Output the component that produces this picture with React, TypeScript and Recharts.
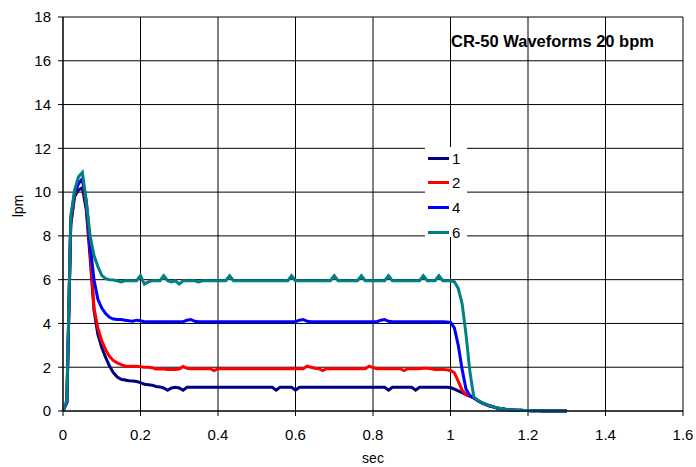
import React from 'react';
import { LineChart, Line, XAxis, YAxis, CartesianGrid, Label } from 'recharts';

// sample times, sec
const time = [
  0, 0.01, 0.02, 0.03, 0.04, 0.05, 0.06, 0.07, 0.08, 0.09,
  0.1, 0.11, 0.12, 0.13, 0.14, 0.15, 0.16, 0.17, 0.18, 0.19,
  0.2, 0.21, 0.22, 0.23, 0.24, 0.25, 0.26, 0.27, 0.28, 0.29,
  0.3, 0.31, 0.32, 0.33, 0.34, 0.35, 0.36, 0.37, 0.38, 0.39,
  0.4, 0.41, 0.42, 0.43, 0.44, 0.45, 0.46, 0.47, 0.48, 0.49,
  0.5, 0.51, 0.52, 0.53, 0.54, 0.55, 0.56, 0.57, 0.58, 0.59,
  0.6, 0.61, 0.62, 0.63, 0.64, 0.65, 0.66, 0.67, 0.68, 0.69,
  0.7, 0.71, 0.72, 0.73, 0.74, 0.75, 0.76, 0.77, 0.78, 0.79,
  0.8, 0.81, 0.82, 0.83, 0.84, 0.85, 0.86, 0.87, 0.88, 0.89,
  0.9, 0.91, 0.92, 0.93, 0.94, 0.95, 0.96, 0.97, 0.98, 0.99,
  1, 1.01, 1.02, 1.03, 1.04, 1.05, 1.06, 1.07, 1.08, 1.09,
  1.1, 1.11, 1.12, 1.13, 1.14, 1.15, 1.16, 1.17, 1.18, 1.19,
  1.2, 1.21, 1.22, 1.23, 1.24, 1.25, 1.26, 1.27, 1.28, 1.29,
  1.3,
];

// flow, lpm
const flow1 = [
  0, 0.4, 8.5, 9.8, 10.1, 10.2, 9.2, 7.0, 4.6, 3.5,
  2.9, 2.45, 2.05, 1.75, 1.55, 1.45, 1.42, 1.38, 1.37, 1.35,
  1.3, 1.22, 1.2, 1.18, 1.12, 1.1, 1.05, 0.95, 1.05, 1.08,
  1.05, 0.95, 1.08, 1.08, 1.08, 1.08, 1.08, 1.08, 1.08, 1.08,
  1.08, 1.08, 1.08, 1.08, 1.08, 1.08, 1.08, 1.08, 1.08, 1.08,
  1.08, 1.08, 1.08, 1.08, 1.08, 0.95, 1.08, 1.08, 1.08, 1.08,
  0.95, 1.08, 1.08, 1.08, 1.08, 1.08, 1.08, 1.08, 1.08, 1.08,
  1.08, 1.08, 1.08, 1.08, 1.08, 1.08, 1.08, 1.08, 1.08, 1.08,
  1.08, 1.08, 1.08, 1.08, 0.95, 1.08, 1.08, 1.08, 1.08, 1.08,
  1.08, 0.95, 1.08, 1.08, 1.08, 1.08, 1.08, 1.08, 1.08, 1.08,
  1.07, 1.0, 0.92, 0.84, 0.75, 0.68, 0.6, 0.48, 0.38, 0.3,
  0.24, 0.19, 0.14, 0.1, 0.08, 0.06, 0.05, 0.04, 0.03, 0.02,
  0.02, 0.01, 0.01, 0.01, 0, 0, 0, 0, 0, 0,
  0,
];

const flow2 = [
  0, 0.4, 8.6, 9.9, 10.4, 10.6, 9.4, 7.4, 4.7, 3.8,
  3.2, 2.8, 2.5, 2.3, 2.2, 2.12, 2.06, 2.05, 2.05, 2.04,
  2.02, 2.0, 2.0, 1.98, 1.92, 1.92, 1.92, 1.9, 1.9, 1.9,
  1.92, 2.03, 1.95, 1.93, 1.93, 1.93, 1.93, 1.93, 1.93, 1.85,
  1.93, 1.93, 1.93, 1.93, 1.93, 1.93, 1.93, 1.93, 1.93, 1.93,
  1.93, 1.93, 1.93, 1.93, 1.93, 1.93, 1.93, 1.93, 1.93, 1.93,
  1.93, 1.93, 1.93, 2.05, 2.0, 1.95, 1.93, 1.85, 1.93, 1.93,
  1.93, 1.93, 1.93, 1.93, 1.93, 1.93, 1.93, 1.93, 1.93, 2.05,
  1.98, 1.93, 1.93, 1.93, 1.93, 1.93, 1.93, 1.93, 1.85, 1.93,
  1.93, 1.93, 1.93, 1.95, 1.95, 1.93, 1.9, 1.9, 1.9, 1.88,
  1.85, 1.75, 1.35, 0.95, 0.75, 0.68, 0.6, 0.48, 0.38, 0.3,
  0.24, 0.19, 0.14, 0.1, 0.08, 0.06, 0.05, 0.04, 0.03, 0.02,
  0.02, 0.01, 0.01, 0.01, 0, 0, 0, 0, 0, 0,
  0,
];

const flow4 = [
  0, 0.4, 8.7, 10.0, 10.4, 10.6, 9.6, 7.6, 6.0, 5.1,
  4.7, 4.45, 4.28, 4.2, 4.18, 4.18, 4.15, 4.12, 4.1, 4.15,
  4.12, 4.08, 4.08, 4.08, 4.08, 4.08, 4.08, 4.08, 4.08, 4.08,
  4.08, 4.08, 4.15, 4.18, 4.1, 4.08, 4.08, 4.08, 4.08, 4.08,
  4.08, 4.08, 4.08, 4.08, 4.08, 4.08, 4.08, 4.08, 4.08, 4.08,
  4.08, 4.08, 4.08, 4.08, 4.08, 4.08, 4.08, 4.08, 4.08, 4.08,
  4.08, 4.15, 4.18, 4.1, 4.08, 4.08, 4.08, 4.08, 4.08, 4.08,
  4.08, 4.08, 4.08, 4.08, 4.08, 4.08, 4.08, 4.08, 4.08, 4.08,
  4.08, 4.08, 4.15, 4.18, 4.1, 4.08, 4.08, 4.08, 4.08, 4.08,
  4.08, 4.08, 4.08, 4.08, 4.08, 4.08, 4.08, 4.08, 4.08, 4.07,
  4.05, 3.8, 3.0, 1.9, 1.0, 0.7, 0.6, 0.48, 0.38, 0.3,
  0.24, 0.19, 0.14, 0.1, 0.08, 0.06, 0.05, 0.04, 0.03, 0.02,
  0.02, 0.01, 0.01, 0.01, 0, 0, 0, 0, 0, 0,
  0,
];

const flow6 = [
  0, 0.5, 8.9, 10.1, 10.7, 10.9, 9.6, 8.0, 7.1, 6.6,
  6.2, 6.05, 6.0, 5.98, 5.95, 5.9, 5.95, 5.95, 5.95, 5.95,
  6.18, 5.8, 5.9, 5.95, 5.95, 5.95, 6.18, 5.95, 5.9, 5.95,
  5.8, 5.95, 5.95, 5.95, 5.95, 5.9, 5.95, 5.95, 5.95, 5.95,
  5.95, 5.95, 5.95, 6.18, 5.95, 5.95, 5.95, 5.95, 5.95, 5.95,
  5.95, 5.95, 5.95, 5.95, 5.95, 5.95, 5.95, 5.95, 5.95, 6.18,
  5.95, 5.95, 5.95, 5.95, 5.95, 5.95, 5.95, 5.95, 5.95, 5.95,
  6.18, 5.95, 5.95, 5.95, 5.95, 5.95, 5.95, 6.18, 5.95, 5.95,
  5.95, 5.95, 5.95, 5.95, 6.18, 5.95, 5.95, 5.95, 5.95, 5.95,
  5.95, 5.95, 5.95, 6.18, 5.95, 5.95, 5.95, 6.18, 5.95, 5.95,
  5.95, 5.9, 5.6, 4.9, 3.5, 1.8, 0.65, 0.5, 0.4, 0.32,
  0.25, 0.2, 0.15, 0.11, 0.08, 0.06, 0.05, 0.04, 0.03, 0.02,
  0.02, 0.01, 0.01, 0.01, 0, 0, 0, 0, 0, 0,
  0,
];

const xTicks = [0, 0.2, 0.4, 0.6, 0.8, 1, 1.2, 1.4, 1.6];
const yTicks = [0, 2, 4, 6, 8, 10, 12, 14, 16, 18];

const series = [
  { key: 'f1', name: '1', color: '#000080', values: flow1 },
  { key: 'f2', name: '2', color: '#ff0000', values: flow2 },
  { key: 'f4', name: '4', color: '#0000ff', values: flow4 },
  { key: 'f6', name: '6', color: '#008080', values: flow6 },
];

const data = time.map((t, i) => {
  const row: Record<string, number> = { t };
  series.forEach((s) => {
    row[s.key] = s.values[i];
  });
  return row;
});

const font = 'Arial, "Liberation Sans", sans-serif';
const tickStyle = { fontSize: 15, fill: '#000', fontFamily: font };

export default function App() {
  return (
    <div style={{ position: 'absolute', left: 0, top: 0, width: 696, height: 467, background: '#fff', fontFamily: font }}>
      <LineChart width={696} height={467} data={data} margin={{ top: 17, right: 13, left: 0, bottom: 0 }}>
        <CartesianGrid stroke="#000" strokeWidth={1} />
        <XAxis
          dataKey="t"
          type="number"
          domain={[0, 1.6]}
          ticks={xTicks}
          height={56}
          stroke="#000"
          tickSize={5}
          tickMargin={13}
          tick={tickStyle}
        >
          <Label value="sec" position="insideBottom" offset={4} style={{ fontSize: 14, fill: '#000', fontFamily: font }} />
        </XAxis>
        <YAxis
          type="number"
          domain={[0, 18]}
          ticks={yTicks}
          width={63}
          stroke="#000"
          tickSize={5}
          tickMargin={7}
          tick={tickStyle}
        >
          <Label
            value="lpm"
            angle={-90}
            position="insideLeft"
            offset={18}
            dy={-8}
            style={{ fontSize: 14, fill: '#000', fontFamily: font, textAnchor: 'middle' }}
          />
        </YAxis>
        {series.map((s) => (
          <Line
            key={s.key}
            dataKey={s.key}
            name={s.name}
            type="linear"
            stroke={s.color}
            strokeWidth={3}
            dot={false}
            isAnimationActive={false}
          />
        ))}
      </LineChart>
      <div
        style={{
          position: 'absolute',
          left: 451,
          top: 33,
          fontSize: 16.5,
          lineHeight: 1,
          fontWeight: 'bold',
          whiteSpace: 'nowrap',
          color: '#000',
        }}
      >
        CR-50 Waveforms 20 bpm
      </div>
      <div
        style={{
          position: 'absolute',
          left: 425,
          top: 147,
          width: 42,
          height: 90,
          background: '#fff',
        }}
      >
        {series.map((s, i) => (
          <div
            key={s.key}
            style={{
              position: 'absolute',
              left: 3,
              top: 3 + i * 24.7,
              height: 16,
              display: 'flex',
              alignItems: 'center',
              fontSize: 15,
              lineHeight: 1,
            }}
          >
            <span style={{ display: 'inline-block', width: 21, height: 3, background: s.color, marginRight: 3 }} />
            <span>{s.name}</span>
          </div>
        ))}
      </div>
    </div>
  );
}
